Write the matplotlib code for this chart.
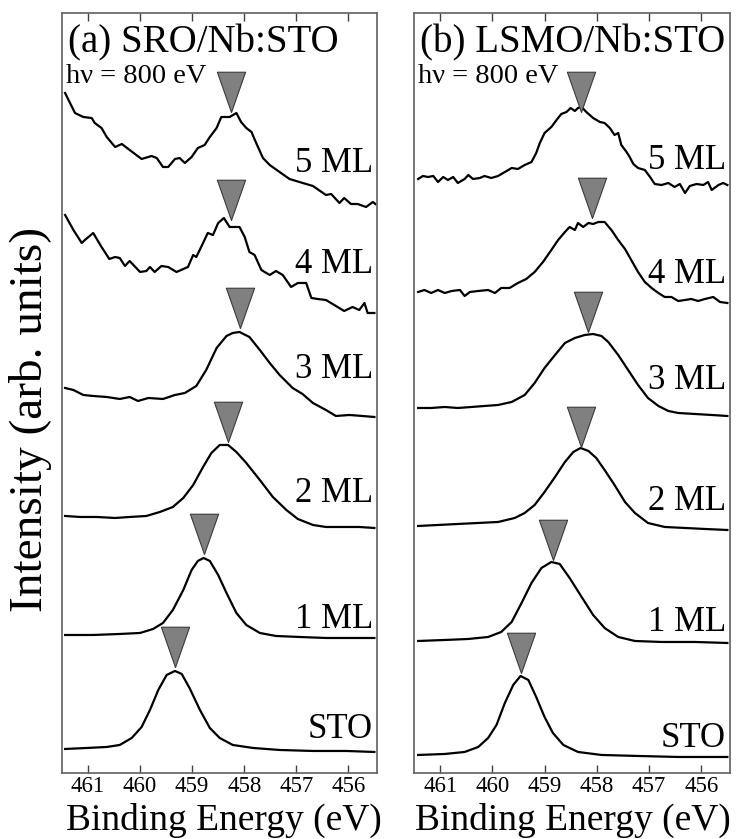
import matplotlib.pyplot as plt
from matplotlib.path import Path

# Ti 2p3/2 core level spectra (energy in eV, intensity in arb. units)

# ---- (a) SRO/Nb:STO ----
a_5ml_e = [461.44, 461.25, 461.09, 460.93, 460.87, 460.74, 460.64, 460.48, 460.35, 460.20,
           459.97, 459.78, 459.68, 459.56, 459.46, 459.33, 459.24, 459.14, 459.01, 458.89,
           458.76, 458.66, 458.53, 458.44, 458.28, 458.15, 458.06, 457.96, 457.86, 457.77,
           457.64, 457.51, 457.32, 457.13, 456.94, 456.68, 456.43, 456.33, 456.17, 456.08,
           455.95, 455.82, 455.66, 455.53, 455.48]
a_5ml_i = [680, 660, 656, 655, 650, 645, 636, 626, 629, 623,
           614, 617, 615, 606, 606, 614, 615, 610, 616, 625,
           628, 636, 645, 656, 656, 660, 651, 645, 641, 630,
           615, 608, 601, 594, 591, 587, 578, 579, 570, 575,
           569, 569, 566, 571, 569]

a_4ml_e = [461.44, 461.28, 461.12, 461.06, 460.90, 460.74, 460.59, 460.48, 460.39, 460.29,
           460.20, 460.00, 459.88, 459.81, 459.72, 459.59, 459.46, 459.30, 459.08, 458.98,
           458.92, 458.79, 458.70, 458.60, 458.50, 458.39, 458.28, 458.09, 457.99, 457.90,
           457.80, 457.67, 457.51, 457.39, 457.26, 457.10, 456.97, 456.81, 456.71, 456.59,
           456.43, 456.27, 456.08, 455.92, 455.79, 455.69, 455.63, 455.50]
a_4ml_i = [558, 543, 530, 533, 540, 526, 514, 516, 515, 507,
           512, 501, 502, 506, 501, 507, 506, 501, 506, 518,
           516, 530, 540, 538, 550, 555, 546, 546, 536, 521,
           518, 503, 498, 502, 498, 486, 490, 490, 475, 474,
           473, 468, 462, 466, 463, 470, 460, 460]

a_3ml_e = [461.44, 461.28, 461.09, 460.90, 460.64, 460.39, 460.20, 460.04, 459.84, 459.56,
           459.33, 459.14, 458.92, 458.73, 458.53, 458.34, 458.22, 458.09, 457.90, 457.70,
           457.51, 457.32, 457.07, 456.88, 456.68, 456.43, 456.24, 455.98, 455.73, 455.50]
a_3ml_i = [385, 383, 378, 377, 376, 374, 376, 372, 375, 374,
           378, 380, 387, 403, 425, 437, 440, 441, 436, 423,
           410, 398, 385, 379, 370, 363, 357, 358, 357, 356]

a_2ml_e = [461.44, 461.15, 460.83, 460.48, 460.20, 459.88, 459.62, 459.37, 459.17, 458.98,
           458.79, 458.63, 458.47, 458.31, 458.15, 457.96, 457.70, 457.45, 457.19, 456.97,
           456.68, 456.43, 456.11, 455.79, 455.50]
a_2ml_i = [257, 256, 256, 255, 256, 257, 261, 266, 275, 288,
           306, 320, 328, 328, 321, 310, 293, 276, 263, 254,
           248, 246, 246, 246, 245]

a_1ml_e = [461.44, 460.90, 460.39, 460.00, 459.75, 459.56, 459.37, 459.17, 459.01, 458.89,
           458.78, 458.66, 458.50, 458.34, 458.15, 457.96, 457.70, 457.39, 456.94, 456.43,
           455.92, 455.50]
a_1ml_i = [138, 138, 139, 140, 144, 150, 163, 183, 203, 212,
           215, 212, 198, 180, 160, 148, 140, 137, 136, 135,
           135, 135]

a_sto_e = [461.44, 461.02, 460.64, 460.39, 460.16, 459.97, 459.81, 459.65, 459.49, 459.33,
           459.20, 459.05, 458.85, 458.66, 458.47, 458.22, 457.83, 457.32, 456.68, 456.04,
           455.50]
a_sto_i = [24, 25, 26, 28, 35, 46, 63, 83, 98, 102,
           99, 85, 63, 45, 35, 28, 25, 23, 22, 22,
           21]

# ---- (b) LSMO/Nb:STO ----
b_5ml_e = [461.42, 461.33, 461.23, 461.13, 461.04, 460.94, 460.85, 460.75, 460.66, 460.53,
           460.46, 460.37, 460.24, 460.15, 460.02, 459.89, 459.76, 459.63, 459.51, 459.38,
           459.25, 459.16, 459.09, 459.00, 458.87, 458.77, 458.68, 458.58, 458.50, 458.42,
           458.36, 458.29, 458.20, 458.07, 457.94, 457.85, 457.75, 457.66, 457.59, 457.53,
           457.43, 457.37, 457.30, 457.21, 457.08, 456.98, 456.89, 456.76, 456.63, 456.51,
           456.41, 456.31, 456.22, 456.09, 455.96, 455.87, 455.80, 455.67, 455.58, 455.50]
b_5ml_i = [594, 597, 596, 597, 591, 596, 593, 596, 590, 594,
           598, 594, 595, 597, 595, 597, 601, 605, 604, 608,
           611, 620, 630, 640, 646, 653, 659, 661, 665, 662,
           665, 666, 661, 655, 651, 650, 645, 638, 640, 628,
           621, 616, 609, 605, 603, 596, 589, 588, 590, 586,
           589, 580, 587, 589, 588, 591, 583, 588, 590, 588]

b_4ml_e = [461.42, 461.30, 461.17, 461.04, 460.91, 460.78, 460.62, 460.53, 460.43, 460.27,
           460.08, 459.95, 459.83, 459.67, 459.51, 459.35, 459.19, 459.03, 458.87, 458.74,
           458.61, 458.52, 458.42, 458.36, 458.26, 458.16, 458.07, 457.97, 457.85, 457.72,
           457.59, 457.46, 457.34, 457.21, 457.08, 456.95, 456.82, 456.70, 456.57, 456.44,
           456.31, 456.19, 456.06, 455.93, 455.77, 455.64, 455.50]
b_4ml_i = [481, 483, 480, 483, 480, 482, 483, 477, 481, 482,
           483, 480, 485, 485, 490, 494, 501, 511, 523, 533,
           541, 546, 543, 550, 546, 550, 549, 551, 551, 543,
           533, 524, 513, 501, 491, 485, 480, 476, 476, 472,
           473, 474, 472, 474, 476, 471, 470]

b_3ml_e = [461.42, 461.17, 460.91, 460.66, 460.40, 460.15, 459.89, 459.63, 459.38, 459.19,
           459.00, 458.80, 458.61, 458.42, 458.23, 458.07, 457.91, 457.78, 457.59, 457.40,
           457.21, 457.02, 456.82, 456.63, 456.44, 456.12, 455.80, 455.50]
b_3ml_i = [365, 365, 366, 365, 366, 367, 368, 371, 378, 390,
           405, 418, 430, 435, 438, 439, 437, 431, 418, 403,
           388, 375, 367, 362, 360, 359, 358, 357]

b_2ml_e = [461.42, 461.04, 460.66, 460.27, 459.89, 459.57, 459.38, 459.19, 459.00, 458.80,
           458.61, 458.45, 458.31, 458.16, 458.01, 457.85, 457.66, 457.46, 457.27, 457.02,
           456.70, 456.31, 455.93, 455.50]
b_2ml_i = [247, 248, 249, 250, 251, 255, 260, 268, 281, 296,
           311, 321, 325, 322, 315, 303, 288, 271, 260, 250,
           246, 245, 244, 243]

b_1ml_e = [461.42, 460.91, 460.46, 460.08, 459.83, 459.63, 459.44, 459.25, 459.06, 458.87,
           458.71, 458.52, 458.29, 458.07, 457.85, 457.59, 457.27, 456.76, 456.12, 455.50]
b_1ml_i = [132, 133, 134, 136, 141, 151, 170, 190, 205, 211,
           209, 195, 176, 158, 145, 136, 132, 131, 131, 130]

b_sto_e = [461.42, 460.91, 460.53, 460.27, 460.08, 459.92, 459.76, 459.60, 459.46, 459.31,
           459.16, 459.00, 458.84, 458.64, 458.36, 457.91, 457.21, 456.44, 455.50]
b_sto_i = [18, 19, 21, 26, 35, 48, 70, 88, 97, 93,
           76, 56, 40, 28, 21, 18, 17, 16, 16]

labels = ['5 ML', '4 ML', '3 ML', '2 ML', '1 ML', 'STO']

# peak markers (energy, height of the triangle tip)
a_peak_e = [458.25, 458.25, 458.09, 458.31, 458.78, 459.33]
a_peak_i = [661, 553, 445, 331, 219, 106]
b_peak_e = [458.30, 458.10, 458.16, 458.31, 458.84, 459.46]
b_peak_i = [661, 555, 441, 326, 213, 100]

# baseline height of each "n ML" label
a_label_y = [601, 500, 395, 271, 145, 35]
b_label_y = [604, 490, 384, 263, 142, 26]

FONT = 'Liberation Serif'
SPINE = '#606060'

# triangle with its tip at the data point
tri = Path([(0, 0), (-0.7, 2), (0.7, 2), (0, 0)],
           [Path.MOVETO, Path.LINETO, Path.LINETO, Path.CLOSEPOLY])


def draw_panel(ax, curves, peak_e, peak_i, label_y, title, xlab_x):
    for e, i in curves:
        ax.plot(e, i, color='black', lw=1.6, zorder=2)
    ax.plot(peak_e, peak_i, ls='none', marker=tri, ms=58, mfc='#808080',
            mec='#3a3a3a', mew=0.8, zorder=3)
    for lab, y in zip(labels, label_y):
        ax.text(0.987, y, lab, transform=ax.get_yaxis_transform(), ha='right',
                va='baseline', fontsize=25, family=FONT)
    ax.text(0.018, 721, title, transform=ax.get_yaxis_transform(), ha='left',
            va='baseline', fontsize=28, family=FONT)
    ax.text(0.014, 690, 'h\u03bd = 800 eV', transform=ax.get_yaxis_transform(),
            ha='left', va='baseline', fontsize=20.5, family=FONT)

    ax.set_xlim(461.5, 455.45)
    ax.set_ylim(0, 760)
    ax.set_xticks([461, 460, 459, 458, 457, 456])
    ax.set_yticks([])
    ax.tick_params(axis='x', direction='in', top=True, length=6, width=1,
                   color='#404040', labelsize=16.5, pad=2.5)
    for lbl in ax.get_xticklabels():
        lbl.set_family(FONT)
    for s in ax.spines.values():
        s.set_color(SPINE)
        s.set_linewidth(1.2)
    ax.set_xlabel('Binding Energy (eV)', fontsize=27, family=FONT, va='baseline')
    ax.xaxis.set_label_coords(xlab_x, -0.075)


if __name__ == "__main__":
    fig = plt.figure(figsize=(7.52, 8.39), dpi=100)
    ax_a = fig.add_axes([0.0824, 0.0787, 0.4189, 0.9058])
    ax_b = fig.add_axes([0.5505, 0.0787, 0.4202, 0.9058])

    curves_a = [(a_5ml_e, a_5ml_i), (a_4ml_e, a_4ml_i), (a_3ml_e, a_3ml_i),
                (a_2ml_e, a_2ml_i), (a_1ml_e, a_1ml_i), (a_sto_e, a_sto_i)]
    curves_b = [(b_5ml_e, b_5ml_i), (b_4ml_e, b_4ml_i), (b_3ml_e, b_3ml_i),
                (b_2ml_e, b_2ml_i), (b_1ml_e, b_1ml_i), (b_sto_e, b_sto_i)]

    draw_panel(ax_a, curves_a, a_peak_e, a_peak_i, a_label_y, '(a) SRO/Nb:STO', 0.513)
    draw_panel(ax_b, curves_b, b_peak_e, b_peak_i, b_label_y, '(b) LSMO/Nb:STO', 0.503)

    fig.text(0.040, 0.5, 'Intensity (arb. units)', rotation=90, ha='center',
             va='center', fontsize=34, family=FONT)

    fig.savefig('out.png', dpi=100)
